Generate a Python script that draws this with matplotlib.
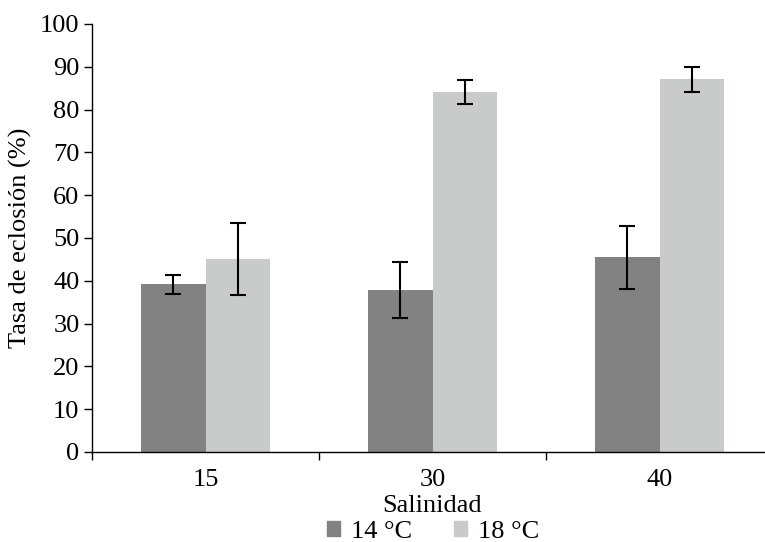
import matplotlib
matplotlib.use("Agg")
import matplotlib.pyplot as plt
from matplotlib.patches import Patch
import numpy as np

categories = ["15", "30", "40"]
series_names = ["14 °C", "18 °C"]
vals_14 = [39.2, 37.8, 45.5]
err_14 = [2.2, 6.6, 7.3]
vals_18 = [45.0, 84.1, 87.1]
err_18 = [8.4, 2.8, 2.9]
yticks = list(range(0, 101, 10))

plt.rcParams['font.family'] = ['Liberation Serif', 'DejaVu Serif']
FS = 19

fig = plt.figure(figsize=(7.65, 5.42), dpi=100)
ax = fig.add_axes([92/765, 90/542, 681/765, 428/542])

x = np.arange(len(categories))
w = 0.286
c14 = "#828282"
c18 = "#c9caca"
ekw = dict(ecolor="black", elinewidth=1.5, capsize=6, capthick=1.5)
ax.bar(x - w/2, vals_14, w, color=c14, yerr=err_14, error_kw=ekw)
ax.bar(x + w/2, vals_18, w, color=c18, yerr=err_18, error_kw=ekw)

ax.set_xlim(-0.5, len(categories) - 0.5)
ax.set_ylim(0, 100)
ax.set_yticks(yticks)
ax.set_yticklabels([str(t) for t in yticks], fontsize=FS)
ax.set_xticks(x)
ax.set_xticklabels(categories, fontsize=FS)
ax.set_xticks(np.arange(-0.5, len(categories), 1.0), minor=True)
ax.tick_params(axis='x', which='major', length=0, pad=12)
ax.tick_params(axis='x', which='minor', length=6, width=1, direction='out')
ax.tick_params(axis='y', length=6, width=1, direction='out', pad=3)

for s in ['top', 'right']:
    ax.spines[s].set_visible(False)
for s in ['left', 'bottom']:
    ax.spines[s].set_linewidth(1)

ax.set_ylabel("Tasa de eclosión (%)", fontsize=FS, labelpad=6)
ax.set_xlabel("Salinidad", fontsize=FS, labelpad=3)

handles = [Patch(color=c14, label=series_names[0]), Patch(color=c18, label=series_names[1])]
fig.legend(handles=handles, loc='lower center', bbox_to_anchor=(0.566, -0.045),
           ncol=2, frameon=False, fontsize=FS, handlelength=0.5, handleheight=0.5,
           columnspacing=1.6, handletextpad=0.4)

fig.savefig("out.png", dpi=100)
